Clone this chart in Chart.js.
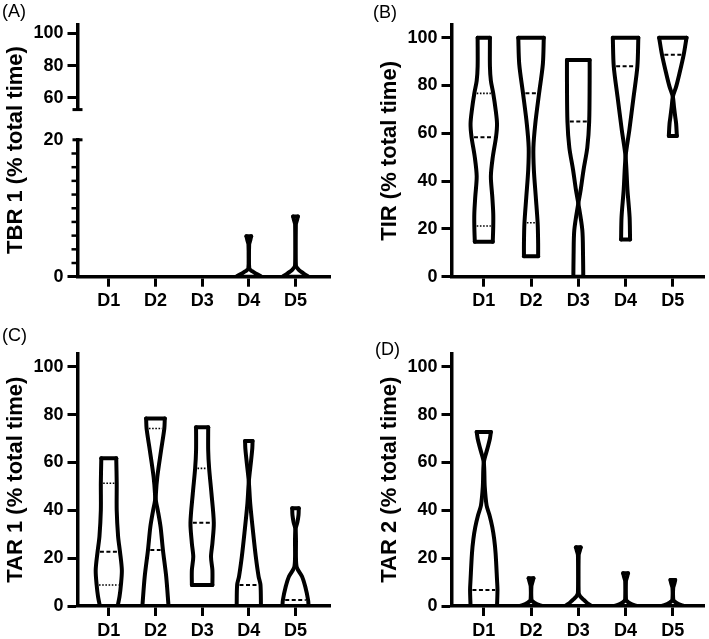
<!DOCTYPE html>
<html>
<head>
<meta charset="utf-8">
<script src="https://cdn.jsdelivr.net/npm/chart.js@4.4.1/dist/chart.umd.min.js"></script>
<style>
  body { margin: 0; background: #fff; }
  #fig { position: relative; width: 709px; height: 639px; overflow: hidden; background: #fff;
         font-family: "Liberation Sans", Arial, sans-serif; color: #000; }
  canvas { position: absolute; }
  .tag { position: absolute; font-size: 18px; line-height: 1; }
  .ytitle { position: absolute; white-space: nowrap; font-size: 22px; font-weight: bold; line-height: 1;
            transform: translate(-50%, -50%) rotate(-90deg); }
</style>
</head>
<body>
<div id="fig">
  <canvas id="cA1" width="374" height="125" style="left:0;top:0"></canvas>
  <canvas id="cA2" width="374" height="204" style="left:0;top:125px"></canvas>
  <canvas id="cB" width="335" height="329" style="left:374px;top:0"></canvas>
  <canvas id="cC" width="374" height="310" style="left:0;top:329px"></canvas>
  <canvas id="cD" width="335" height="310" style="left:374px;top:329px"></canvas>
  <div class="tag" style="left:2px;top:2px">(A)</div>
  <div class="tag" style="left:373px;top:3px">(B)</div>
  <div class="tag" style="left:2px;top:326px">(C)</div>
  <div class="tag" style="left:375px;top:340px">(D)</div>
  <div class="ytitle" style="left:15px;top:150px">TBR 1 (% total time)</div>
</div>
<script>
const days = ['D1', 'D2', 'D3', 'D4', 'D5'];
const yTicks = [0, 20, 40, 60, 80, 100];
const tbrUpperTicks = [60, 80, 100];
const tbrLowerTicks = [0, 20];
const tbrMinorTicks = [2, 4, 6, 8, 10, 12, 14, 16, 18];

// violin outlines: value levels (bottom -> top) and half-widths in category units
// (negative half-width = the two outlines have crossed over)

// (A) TBR 1
const tbrLevels = [[], [], [],
  [0, 0.4, 0.8, 1.2, 4.75, 5.3, 5.9],
  [0, 0.5, 1.0, 1.6, 7.65, 8.2, 8.8]];
const tbrWidths = [[], [], [],
  [0.27, 0.17, 0.07, 0.01, 0.008, 0.03, 0.05],
  [0.28, 0.17, 0.07, 0.01, 0.008, 0.03, 0.05]];
const tbrMedian = [null, null, null, null, null];
const tbrQ1 = [null, null, null, null, null];
const tbrQ3 = [null, null, null, null, null];

// (B) TIR
const tirLevels = [
  [14.6, 21, 26.5, 33.5, 42, 50, 58.6, 64, 70, 76.7, 82, 88, 100],
  [8.6, 14, 22.3, 33.5, 44.6, 54, 64, 76.7, 89, 100],
  [0, 9, 19.5, 30.7, 36.3, 44.6, 54, 64.9, 82, 90.7],
  [15.6, 25, 36.3, 50.2, 61.4, 75.3, 88, 100],
  [58.9, 64, 67, 71, 75.3, 79.5, 85, 92.9, 100]];
const tirWidths = [
  [0.19, 0.2, 0.2, 0.18, 0.15, 0.19, 0.26, 0.28, 0.25, 0.2, 0.15, 0.13, 0.13],
  [0.15, 0.15, 0.14, 0.1, 0.06, 0.05, 0.09, 0.17, 0.25, 0.27],
  [-0.105, -0.1, -0.085, 0, 0.05, 0.11, 0.19, 0.23, 0.24, 0.24],
  [-0.095, -0.085, -0.04, 0, 0.08, 0.17, 0.25, 0.27],
  [-0.085, -0.07, -0.05, -0.025, 0, 0.07, 0.14, 0.23, 0.29]];
const tirMedian = [58.3, 76.7, 64.9, 88, 92.9];
const tirQ1 = [21.2, 22.6, 36, null, null];
const tirQ3 = [76.7, null, null, null, null];

// (C) TAR 1
const tar1Levels = [
  [0, 3.9, 8.8, 15, 22.7, 29, 40, 51.3, 61.7],
  [0, 12.3, 23.4, 33, 40, 44, 47, 54, 65, 74.2, 78.4],
  [8.8, 15, 20.6, 26.2, 34.8, 47, 57.5, 65, 74.7],
  [0, 8.8, 12.3, 20.6, 30.4, 42.9, 52, 61, 66, 69],
  [0, 2.5, 8, 12.3, 16, 20, 28, 32, 35, 38, 40.8]];
const tar1Widths = [
  [0.19, 0.23, 0.26, 0.28, 0.24, 0.2, 0.17, 0.17, 0.16],
  [0.28, 0.23, 0.16, 0.11, 0.05, 0.01, 0.01, 0.04, 0.12, 0.19, 0.2],
  [0.22, 0.22, 0.19, 0.22, 0.25, 0.2, 0.15, 0.13, 0.13],
  [0.26, 0.25, 0.21, 0.15, 0.094, 0.03, 0, -0.05, -0.075, -0.08],
  [0.28, 0.27, 0.21, 0.14, 0.03, 0.01, 0.01, 0, -0.04, -0.065, -0.07]];
const tar1Median = [22.7, 23.4, 34.8, 8.8, 2.5];
const tar1Q1 = [8.8, null, 8.8, null, null];
const tar1Q3 = [51.3, 74.2, 57.5, null, null];

// (D) TAR 2
const tar2Levels = [
  [0, 6.7, 11, 22, 28, 33, 38, 42, 50, 60, 66, 70, 72.7],
  [0, 0.8, 2, 3, 8.3, 10, 11.6],
  [0, 1, 2.5, 4, 5.5, 21.2, 23, 24.5],
  [0, 0.8, 2, 3, 10.4, 12, 13.7],
  [0, 0.8, 2, 3, 7.6, 9.2, 10.9]];
const tar2Widths = [
  [0.28, 0.29, 0.28, 0.25, 0.22, 0.18, 0.12, 0.06, 0.02, 0, -0.08, -0.13, -0.15],
  [0.23, 0.12, 0.03, 0.008, 0.008, 0.03, 0.05],
  [0.28, 0.2, 0.12, 0.04, 0.008, 0.008, 0.03, 0.05],
  [0.23, 0.12, 0.03, 0.008, 0.008, 0.03, 0.05],
  [0.23, 0.12, 0.03, 0.008, 0.008, 0.03, 0.05]];
const tar2Median = [6.7, null, null, null, null];
const tar2Q1 = [null, null, null, null, null];
const tar2Q3 = [null, null, null, null, null];

const AXIS_LEFT = 77.5, AXIS_RIGHT = 330.5;
const FONT = '"Liberation Sans", Arial, sans-serif';
const tickFont = { family: FONT, size: 18, weight: 'bold' };

function widthAt(ys, ws, v) {
  for (let k = 1; k < ys.length; k++) {
    if (v <= ys[k]) {
      const t = (v - ys[k - 1]) / (ys[k] - ys[k - 1]);
      return ws[k - 1] + t * (ws[k] - ws[k - 1]);
    }
  }
  return ws[ws.length - 1];
}

function stroke(points, opts) {
  return Object.assign({
    data: points, showLine: true, tension: 0, pointRadius: 0,
    borderColor: '#000', borderWidth: 4, borderCapStyle: 'round', borderJoinStyle: 'round', fill: false
  }, opts || {});
}

// build violins (sides, caps, median/quartile lines) from the arrays
function violins(levels, widths, med, q1, q3) {
  const sets = [];
  levels.forEach((ys, i) => {
    const ws = widths[i];
    const n = ys.length;
    if (!n) return;
    sets.push(stroke(ys.map((y, k) => ({ x: i + ws[k], y })), { tension: 0.3 }));
    sets.push(stroke(ys.map((y, k) => ({ x: i - ws[k], y })), { tension: 0.3 }));
    sets.push(stroke([{ x: i - ws[n - 1], y: ys[n - 1] }, { x: i + ws[n - 1], y: ys[n - 1] }]));
    sets.push(stroke([{ x: i - ws[0], y: ys[0] }, { x: i + ws[0], y: ys[0] }]));
    [[med[i], [4, 2.5], 2], [q1[i], [1.6, 1.6], 1.6], [q3[i], [1.6, 1.6], 1.6]].forEach(([v, dash, lw]) => {
      if (v == null) return;
      const w = Math.abs(widthAt(ys, ws, v)) - 0.05;
      if (w <= 0.01) return;
      sets.push(stroke([{ x: i - w, y: v }, { x: i + w, y: v }], { borderDash: dash, borderWidth: lw, borderCapStyle: 'butt' }));
    });
  });
  return sets;
}

// minor ticks and axis-break caps on the left axis
const axisMarks = {
  id: 'axisMarks',
  afterDraw(chart, args, opts) {
    const { ctx } = chart;
    const y = chart.scales.y;
    const x0 = chart.chartArea.left;
    ctx.save();
    ctx.strokeStyle = '#000';
    ctx.lineWidth = 2.5;
    (opts.minor || []).forEach(v => {
      const py = y.getPixelForValue(v);
      ctx.beginPath(); ctx.moveTo(x0 - 6, py); ctx.lineTo(x0, py); ctx.stroke();
    });
    ctx.lineWidth = 3;
    const caps = [];
    if (opts.capMin) caps.push(y.min);
    if (opts.capMax) caps.push(y.max);
    caps.forEach(v => {
      const py = y.getPixelForValue(v);
      ctx.beginPath(); ctx.moveTo(x0 - 5, py); ctx.lineTo(x0 + 5, py); ctx.stroke();
    });
    ctx.restore();
  }
};

function makeChart(id, p) {
  const cv = document.getElementById(id);
  const W = cv.width, H = cv.height;
  return new Chart(cv, {
    type: 'scatter',
    data: { datasets: p.sets || [] },
    options: {
      responsive: false, animation: false, devicePixelRatio: 1, events: [],
      layout: { padding: { left: 0, top: p.top, right: W - AXIS_RIGHT, bottom: p.showX ? 0 : H - p.bottom } },
      plugins: { legend: { display: false }, tooltip: { enabled: false }, axisMarks: p.marks || {} },
      scales: {
        x: {
          type: 'linear', display: p.showX, min: p.xMin, max: p.xMax,
          afterBuildTicks: ax => { ax.ticks = days.map((d, i) => ({ value: i })); },
          afterFit: ax => { ax.height = H - p.bottom; },
          ticks: { callback: v => days[v], font: tickFont, color: '#000', padding: 4, maxRotation: 0, autoSkip: false },
          grid: { drawOnChartArea: false, tickLength: 10, tickWidth: 3, tickColor: '#000' },
          border: { color: '#000', width: 3.5 }
        },
        y: {
          type: 'linear', min: p.yMin, max: p.yMax,
          afterBuildTicks: ax => { ax.ticks = p.yTicks.map(v => ({ value: v })); },
          afterFit: ax => { ax.width = AXIS_LEFT; },
          ticks: { font: tickFont, color: '#000', padding: 4 },
          grid: { drawOnChartArea: false, tickLength: 10, tickWidth: 3,
                  tickColor: c => (p.hideTick && c.tick && c.tick.value === p.hideTick) ? 'rgba(0,0,0,0)' : '#000' },
          border: { color: '#000', width: 3.5 },
          title: p.title ? { display: true, text: p.title, color: '#000', padding: { top: 3, bottom: 0 },
                             font: { family: FONT, size: 22, weight: 'bold' } } : { display: false }
        }
      }
    },
    plugins: [axisMarks]
  });
}

// (A) broken axis: upper segment and lower segment
makeChart('cA1', { top: 25, bottom: 117.3, showX: false, xMin: -0.67, xMax: 4.75,
  yMin: 52.6, yMax: 105.3, yTicks: tbrUpperTicks, marks: { capMin: true } });
makeChart('cA2', { top: 11.7, bottom: 151.7, showX: true, xMin: -0.67, xMax: 4.75,
  yMin: 0, yMax: 20, yTicks: tbrLowerTicks, hideTick: 20, marks: { minor: tbrMinorTicks, capMax: true },
  sets: violins(tbrLevels, tbrWidths, tbrMedian, tbrQ1, tbrQ3) });
makeChart('cB', { top: 25, bottom: 276.7, showX: true, xMin: -0.683, xMax: 4.67,
  yMin: 0, yMax: 105.3, yTicks: yTicks, title: 'TIR (% total time)',
  sets: violins(tirLevels, tirWidths, tirMedian, tirQ1, tirQ3) });
makeChart('cC', { top: 24.3, bottom: 277, showX: true, xMin: -0.67, xMax: 4.75,
  yMin: 0, yMax: 105.6, yTicks: yTicks, title: 'TAR 1 (% total time)',
  sets: violins(tar1Levels, tar1Widths, tar1Median, tar1Q1, tar1Q3) });
makeChart('cD', { top: 24.3, bottom: 277, showX: true, xMin: -0.683, xMax: 4.67,
  yMin: 0, yMax: 105.6, yTicks: yTicks, title: 'TAR 2 (% total time)',
  sets: violins(tar2Levels, tar2Widths, tar2Median, tar2Q1, tar2Q3) });
</script>
</body>
</html>
